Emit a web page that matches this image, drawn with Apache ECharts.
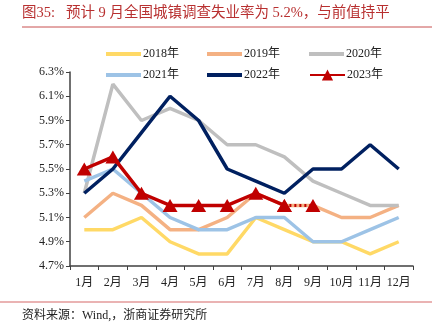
<!DOCTYPE html>
<html><head><meta charset="utf-8">
<script src="https://cdn.jsdelivr.net/npm/echarts@6/dist/echarts.min.js"></script>
<style>html,body{margin:0;padding:0;background:#fff}#c{width:447px;height:335px}</style>
</head><body><div id="c"></div>
<script>
var months = ['1月','2月','3月','4月','5月','6月','7月','8月','9月','10月','11月','12月'];
var seriesNames = ['2018年','2019年','2020年','2021年','2022年','2023年'];
var y2018 = [5.0,5.0,5.1,4.9,4.8,4.8,5.1,5.0,4.9,4.9,4.8,4.9];
var y2019 = [5.1,5.3,5.2,5.0,5.0,5.1,5.3,5.2,5.2,5.1,5.1,5.2];
var y2020 = [5.3,6.2,5.9,6.0,5.9,5.7,5.7,5.6,5.4,5.3,5.2,5.2];
var y2021 = [5.4,5.5,5.3,5.1,5.0,5.0,5.1,5.1,4.9,4.9,5.0,5.1];
var y2022 = [5.3,5.5,5.8,6.1,5.9,5.5,5.4,5.3,5.5,5.5,5.7,5.5];
var y2023 = [5.5,5.6,5.3,5.2,5.2,5.2,5.3,5.2];
var y2023Forecast = ['-','-','-','-','-','-','-',5.2,5.2];
var yTicks = {min:4.7, max:6.3, interval:0.2};

var colors = ['#FFD966','#F4B183','#BFBFBF','#9DC3E6','#002060','#C00000'];
var allData = [y2018,y2019,y2020,y2021,y2022];
var serif = '"Liberation Serif","Times New Roman","Noto Sans CJK SC",serif';

var series = [];
for (var i=0;i<5;i++){
  series.push({name:seriesNames[i],type:'line',data:allData[i],symbol:'none',
    lineStyle:{color:colors[i],width:3.5},itemStyle:{color:colors[i]},z:2+i});
}
series.push({name:seriesNames[5],type:'line',data:y2023,symbol:'triangle',symbolSize:[15,13],
  showAllSymbol:true,lineStyle:{color:colors[5],width:3.5},itemStyle:{color:colors[5]},z:10});
series.push({name:'2023预测',type:'line',data:y2023Forecast,symbol:'triangle',symbolSize:[15,13],
  lineStyle:{color:colors[5],width:3,type:[2,3]},itemStyle:{color:colors[5]},z:10});

var legendPos = [[101,43],[202,43],[304,43],[101,64],[202,64],[304,64]];
var legends = seriesNames.map(function(n,k){
  var l = {data:[n],left:legendPos[k][0],top:legendPos[k][1],itemWidth:35,itemHeight:14,itemGap:4,
    textStyle:{fontFamily:serif,fontSize:12,color:'#222',padding:[0,0,0,-3]}};
  if(k<5){ l.icon='path://M0,0 L36,0 L36,4 L0,4 Z'; l.itemHeight=4; }
  return l;
});

var chart = echarts.init(document.getElementById('c'));
chart.setOption({
  animation:false,
  backgroundColor:'#fff',
  legend:legends,
  grid:{left:70,right:34,top:72,bottom:69,containLabel:false},
  xAxis:{type:'category',data:months,boundaryGap:true,
    axisLine:{lineStyle:{color:'#404040',width:1.5}},
    axisTick:{show:true,length:4,lineStyle:{color:'#404040'}},
    axisLabel:{interval:0,fontFamily:serif,fontSize:12,color:'#222',margin:11}},
  yAxis:{type:'value',min:yTicks.min,max:yTicks.max,interval:yTicks.interval,
    splitLine:{show:false},
    axisLine:{show:true,lineStyle:{color:'#404040',width:1.5}},
    axisTick:{show:true,length:4,inside:false,lineStyle:{color:'#404040'}},
    axisLabel:{fontFamily:serif,fontSize:12,color:'#222',margin:6,
      formatter:function(v){return v.toFixed(1)+'%';}}},
  series:series,
  graphic:[
    {type:'text',left:22,top:6,style:{text:'图35:   预计 9 月全国城镇调查失业率为 5.2%，与前值持平',
      fill:'#B83030',font:'14.5px '+serif}},
    {type:'line',shape:{x1:22,y1:27,x2:432,y2:27},style:{stroke:'#C85050',lineWidth:1}},
    {type:'line',shape:{x1:0,y1:302,x2:432,y2:302},style:{stroke:'#E39A9A',lineWidth:1.5}},
    {type:'text',left:22,top:310,style:{text:'资料来源：Wind,，浙商证券研究所',fill:'#222',font:'12px '+serif}}
  ]
});
</script></body></html>
